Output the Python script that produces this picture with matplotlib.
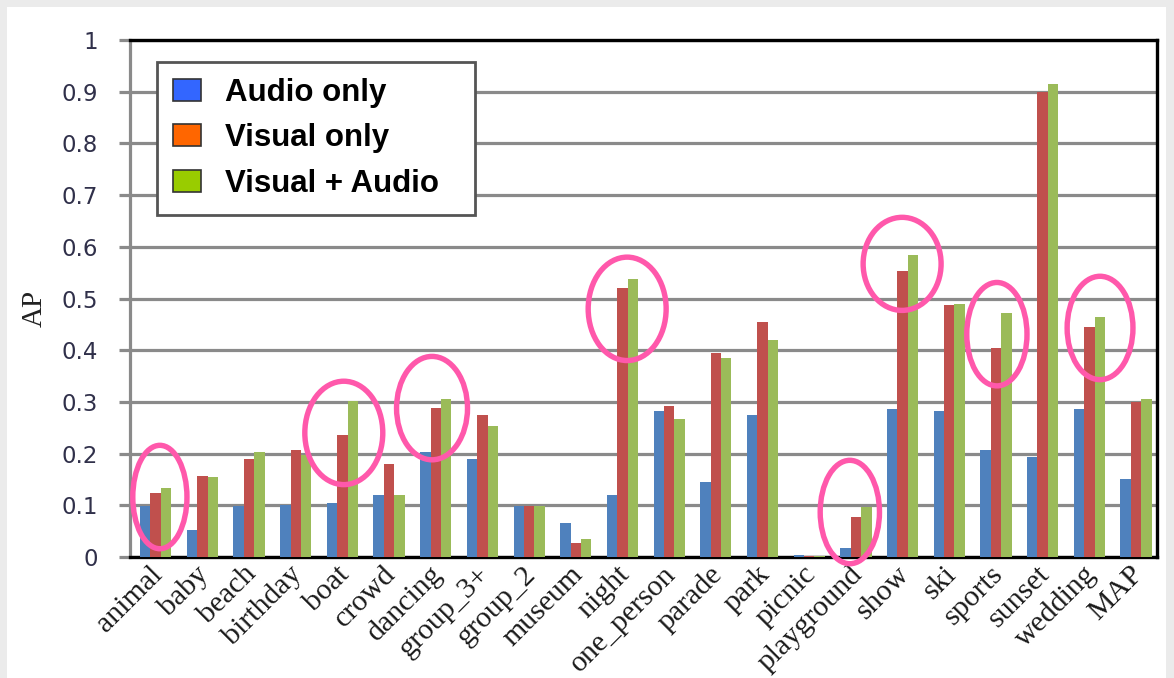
import matplotlib
matplotlib.use("Agg")
import matplotlib.pyplot as plt
import matplotlib.transforms as mtrans
import numpy as np
from matplotlib.patches import Patch, Ellipse, Rectangle

# ---- data -------------------------------------------------------------
categories = ["animal", "baby", "beach", "birthday", "boat", "crowd", "dancing",
              "group_3+", "group_2", "museum", "night", "one_person", "parade",
              "park", "picnic", "playground", "show", "ski", "sports", "sunset",
              "wedding", "MAP"]

audio_only = [0.098, 0.052, 0.099, 0.100, 0.104, 0.120, 0.203, 0.190, 0.098, 0.066,
              0.120, 0.282, 0.145, 0.275, 0.004, 0.017, 0.286, 0.282, 0.207, 0.193,
              0.286, 0.151]
visual_only = [0.124, 0.157, 0.190, 0.207, 0.236, 0.180, 0.288, 0.275, 0.098, 0.027,
               0.520, 0.292, 0.394, 0.455, 0.002, 0.077, 0.553, 0.487, 0.404, 0.900,
               0.444, 0.300]
visual_audio = [0.133, 0.155, 0.203, 0.197, 0.302, 0.120, 0.306, 0.253, 0.098, 0.034,
                0.538, 0.267, 0.385, 0.420, 0.002, 0.097, 0.584, 0.489, 0.472, 0.915,
                0.464, 0.306]

series_labels = ["Audio only", "Visual only", "Visual + Audio"]
y_ticks = [0, 0.1, 0.2, 0.3, 0.4, 0.5, 0.6, 0.7, 0.8, 0.9, 1]
y_tick_labels = ["0", "0.1", "0.2", "0.3", "0.4", "0.5", "0.6", "0.7", "0.8", "0.9", "1"]

# categories singled out with a ring: (name, x shift, y shift below top bar, ring width, ring height)
rings = [("animal", 0.14, -0.017, 1.16, 0.20),
         ("boat", 0.08, -0.062, 1.67, 0.20),
         ("dancing", -0.03, -0.018, 1.52, 0.20),
         ("night", 0.15, -0.058, 1.67, 0.20),
         ("playground", -0.08, -0.010, 1.27, 0.20),
         ("show", 0.04, -0.017, 1.67, 0.18),
         ("sports", 0.07, -0.041, 1.29, 0.20),
         ("wedding", 0.28, -0.021, 1.41, 0.20)]

# ---- style ------------------------------------------------------------
bar_colors = ["#4F81BD", "#C0504D", "#9BBB59"]
legend_colors = ["#3366FF", "#FF6600", "#99CC00"]
grid_gray = "#8A8A8A"
ring_color = "#FF58AB"

W, H = 1174, 678
fig = plt.figure(figsize=(W / 100, H / 100), dpi=100)
fig.patch.set_facecolor("#EBEBEB")
fig.add_artist(Rectangle((7 / W, 0), (1166 - 7) / W, (H - 7) / H,
                         transform=fig.transFigure, facecolor="white",
                         edgecolor="none", zorder=-10))

ax = fig.add_axes([130 / W, (H - 557) / H, (1157 - 130) / W, (557 - 40) / H])
ax.set_facecolor("white")

x = np.arange(len(categories))
bw = 0.223
for k, (vals, col) in enumerate(zip([audio_only, visual_only, visual_audio], bar_colors)):
    ax.bar(x + (k - 1) * bw + 0.05, vals, width=bw, color=col, edgecolor="none",
           zorder=3)

ax.set_xlim(-0.5, len(categories) - 0.5)
ax.set_ylim(0, 1)

# horizontal grid
ax.set_yticks(y_ticks)
ax.set_yticklabels(y_tick_labels, fontsize=16.5, color="#30304A",
                   family="DejaVu Sans")
ax.yaxis.grid(True, color=grid_gray, linewidth=2.3, zorder=0)
ax.set_axisbelow(True)
ax.tick_params(axis="y", direction="out", length=8, width=2.3, color=grid_gray,
               pad=15)

ax.set_xticks(x)
ax.set_xticklabels(categories, rotation=45, ha="right", va="top",
                   rotation_mode="anchor", fontsize=21.5,
                   family="Liberation Serif", color="#1A1A1A")
ax.tick_params(axis="x", length=0, pad=3)
offset = mtrans.ScaledTranslation(-4 / 100, 0, fig.dpi_scale_trans)
for lbl in ax.get_xticklabels():
    lbl.set_transform(lbl.get_transform() + offset)

ax.set_ylabel("AP", family="Liberation Serif", fontsize=21, color="#222222")
ax.yaxis.set_label_coords(-0.080, 0.48)

for side in ["top", "right", "bottom"]:
    ax.spines[side].set_color("black")
    ax.spines[side].set_linewidth(2.4)
ax.spines["left"].set_color(grid_gray)
ax.spines["left"].set_linewidth(2.3)

# rings around selected categories
for name, dx, dy, rw, rh in rings:
    i = categories.index(name)
    top = max(visual_only[i], visual_audio[i])
    ax.add_patch(Ellipse((i + dx, top + dy), rw, rh, fill=False,
                         edgecolor=ring_color, linewidth=3.9, zorder=5,
                         clip_on=False))

# legend
handles = [Patch(facecolor=c, edgecolor="#333333", linewidth=1.2) for c in legend_colors]
leg = ax.legend(handles, series_labels, loc="upper left",
                bbox_to_anchor=((157 - 130) / 1027, (557 - 62) / 517,
                                (475 - 157) / 1027, 0.0),
                mode="expand", borderaxespad=0, fancybox=False, framealpha=1,
                edgecolor="#555555", prop={"family": "Liberation Sans",
                                           "weight": "bold", "size": 22.5},
                handlelength=0.92, handleheight=0.72, handletextpad=0.75,
                labelspacing=0.5, borderpad=0.5)
leg.get_frame().set_linewidth(2)
leg.set_zorder(6)

fig.savefig("out.png", dpi=100, facecolor=fig.get_facecolor())
